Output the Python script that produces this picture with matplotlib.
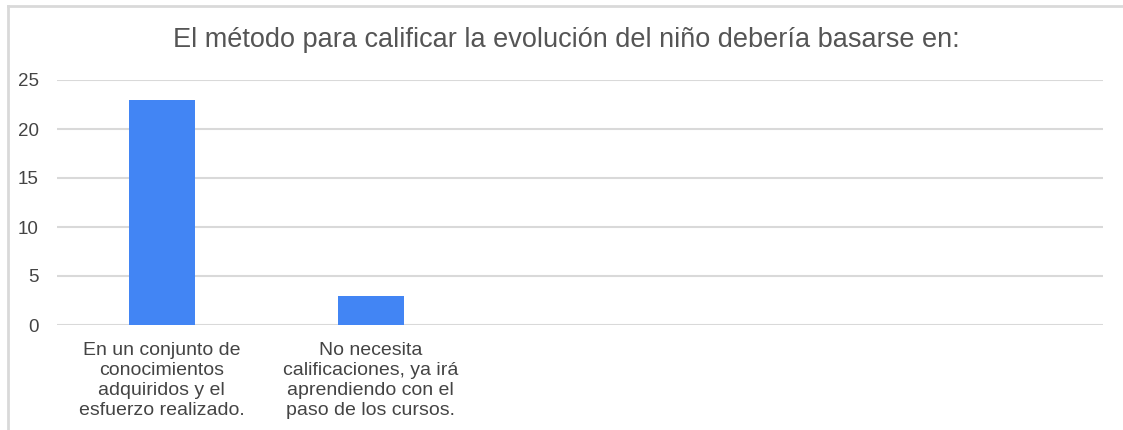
import matplotlib.pyplot as plt
from matplotlib.lines import Line2D

plt.rcParams['font.family'] = ['Liberation Sans', 'DejaVu Sans']

# Data
categories = ["En un conjunto de\nconocimientos\nadquiridos y el\nesfuerzo realizado.",
              "No necesita\ncalificaciones, ya irá\naprendiendo con el\npaso de los cursos."]
values = [23, 3]
yticks = [0, 5, 10, 15, 20, 25]
title = "El método para calificar la evolución del niño debería basarse en:"

# Figure
fig = plt.figure(figsize=(11.23, 4.3), dpi=100)
ax = fig.add_axes([57 / 1123, 1 - 325 / 430, 1046 / 1123, 245 / 430])

x = list(range(len(categories)))
ax.bar(x, values, width=0.315, color="#4285F4", zorder=3)

ax.set_xlim(-0.5, 4.5)
ax.set_ylim(0, 25)
ax.set_yticks(yticks)
ax.set_xticks(x)
ax.set_xticklabels(categories, fontsize=14, color="#444444", linespacing=1.25)
ax.tick_params(axis="y", length=0, pad=13, labelsize=13.5, labelcolor="#444444")
ax.tick_params(axis="x", length=0, pad=12)
ax.grid(axis="y", color="#d9d9d9", linewidth=1.5, zorder=0)
for s in ax.spines.values():
    s.set_visible(False)

fig.text(566 / 1123, 1 - 40 / 430, title, ha="center", va="center",
         fontsize=19.5, color="#555555")

# Border of the chart box
fig.add_artist(Line2D([8 / 1123, 1], [1 - 6 / 430, 1 - 6 / 430], color="#d9d9d9", linewidth=2))
fig.add_artist(Line2D([8 / 1123, 8 / 1123], [0, 1 - 6 / 430], color="#d9d9d9", linewidth=2))

fig.savefig("out.png", dpi=100)
